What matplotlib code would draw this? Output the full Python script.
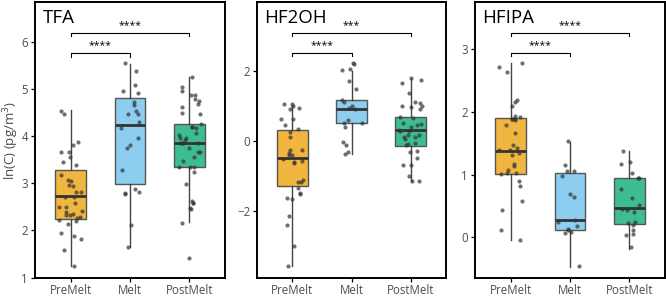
import matplotlib.pyplot as plt
import numpy as np

plt.rcParams['font.family'] = ['Open Sans', 'DejaVu Sans']

groups = ['PreMelt', 'Melt', 'PostMelt']
box_colors = ['#F0B640', '#8CCDF0', '#3EBD93']

# TFA
tfa_pre = [4.53, 4.47, 3.88, 3.80, 3.66, 3.66, 3.56, 3.44, 3.39, 3.18, 3.07, 3.05, 2.96,
           2.93, 2.82, 2.82, 2.70, 2.70, 2.57, 2.50, 2.50, 2.42, 2.39, 2.33, 2.29, 2.34,
           2.33, 2.26, 2.22, 2.20, 2.14, 1.94, 1.87, 1.82, 1.59, 1.25]
tfa_melt = [5.54, 5.38, 5.09, 4.95, 4.91, 4.66, 4.71, 4.47, 4.46, 4.52, 4.30, 4.17, 3.95,
            3.74, 3.80, 3.28, 2.88, 2.77, 2.82, 2.79, 2.11, 1.64]
tfa_post = [5.26, 5.03, 4.96, 4.87, 4.79, 4.87, 4.74, 4.62, 4.67, 4.48, 4.47, 4.20, 4.19,
            4.25, 4.16, 4.06, 4.02, 3.95, 3.95, 3.85, 3.86, 3.86, 3.85, 3.92, 3.75, 3.67,
            3.67, 3.56, 3.46, 3.34, 3.34, 3.35, 3.23, 2.98, 2.62, 2.59, 2.57, 2.48, 2.45,
            2.15, 1.42]
# box stats: whislo, q1, median, q3, whishi
tfa_box = [[1.25, 2.24, 2.72, 3.28, 4.55],
           [1.64, 2.98, 4.23, 4.81, 5.53],
           [2.17, 3.34, 3.86, 4.26, 5.24]]

# HF2OH
hf2oh_pre = [1.04, 1.04, 0.99, 0.94, 0.90, 0.61, 0.61, 0.44, 0.32, 0.25, 0.10, -0.27,
             -0.27, -0.34, -0.42, -0.42, -0.53, -0.62, -0.57, -0.65, -1.17, -1.13, -1.17,
             -1.34, -1.52, -1.49, -1.64, -1.67, -2.15, -2.41, -3.01, -3.58]
hf2oh_melt = [2.18, 2.21, 2.02, 2.04, 1.71, 1.47, 1.16, 1.10, 0.99, 0.94, 0.90, 0.59,
              0.51, 0.51, 0.38, -0.03, -0.13, -0.32, -0.38]
hf2oh_post = [1.80, 1.73, 1.66, 1.35, 1.11, 1.09, 0.99, 0.99, 0.97, 0.91, 0.69, 0.65,
              0.50, 0.44, 0.48, 0.38, 0.30, 0.28, 0.28, 0.17, 0.11, 0.11, 0.16, 0.04,
              -0.06, -0.13, -0.08, -0.29, -0.31, -0.48, -0.70, -0.70, -1.00, -1.15, -1.15]
hf2oh_box = [[-3.58, -1.30, -0.48, 0.30, 0.99],
             [-0.38, 0.50, 0.91, 1.16, 2.00],
             [-1.16, -0.15, 0.30, 0.68, 1.77]]

# HFIPA
hfipa_pre = [2.78, 2.71, 2.63, 2.19, 2.15, 2.10, 1.94, 1.91, 1.88, 1.88, 1.88, 1.87,
             1.79, 1.66, 1.47, 1.42, 1.39, 1.39, 1.31, 1.34, 1.16, 1.13, 1.07, 1.02,
             1.02, 1.01, 0.89, 0.81, 0.57, 0.43, 0.12, -0.05]
hfipa_melt = [1.53, 1.15, 1.05, 1.05, 0.98, 0.69, 0.64, 0.27, 0.25, 0.18, 0.13, 0.11,
              0.09, 0.06, -0.46]
hfipa_post = [1.38, 1.20, 1.16, 1.02, 0.94, 0.95, 0.77, 0.63, 0.51, 0.45, 0.44, 0.40,
              0.24, 0.23, 0.20, 0.12, 0.04, 0.05, -0.16]
hfipa_box = [[-0.05, 1.01, 1.38, 1.90, 2.78],
             [-0.47, 0.11, 0.27, 1.02, 1.52],
             [-0.18, 0.21, 0.47, 0.95, 1.38]]

titles = ['TFA', 'HF2OH', 'HFIPA']
points = [[tfa_pre, tfa_melt, tfa_post],
          [hf2oh_pre, hf2oh_melt, hf2oh_post],
          [hfipa_pre, hfipa_melt, hfipa_post]]
boxes = [tfa_box, hf2oh_box, hfipa_box]
ylims = [(0.99, 6.84), (-3.92, 3.96), (-0.65, 3.75)]
yticks = [[1, 2, 3, 4, 5, 6], [-2, 0, 2], [0, 1, 2, 3]]
# significance brackets: (short bracket y, long bracket y), labels
brackets = [(5.75, 6.18), (2.50, 3.07), (2.94, 3.26)]
stars = [('****', '****'), ('****', '***'), ('****', '****')]

fig = plt.figure(figsize=(6.66, 2.96), dpi=100)
lefts = [35, 257, 475]
widths = [190, 189, 190]
rng = np.random.default_rng(3)

for k in range(3):
    ax = fig.add_axes([lefts[k] / 666, 18 / 296, widths[k] / 666, 276 / 296])
    stats = []
    for b in boxes[k]:
        stats.append({'whislo': b[0], 'q1': b[1], 'med': b[2], 'q3': b[3], 'whishi': b[4],
                      'fliers': []})
    bp = ax.bxp(stats, positions=[0, 1, 2], widths=0.52, patch_artist=True,
                showcaps=False, showfliers=False,
                boxprops=dict(edgecolor='#555555', linewidth=1.0),
                whiskerprops=dict(color='#444444', linewidth=1.0),
                medianprops=dict(color='#333333', linewidth=2.0))
    for patch, c in zip(bp['boxes'], box_colors):
        patch.set_facecolor(c)
    for i, vals in enumerate(points[k]):
        x = i + rng.uniform(-0.2, 0.2, len(vals))
        ax.scatter(x, vals, s=9, color='#333333', alpha=0.7, linewidths=0, zorder=3)

    ax.set_xlim(-0.6, 2.6)
    ax.set_ylim(*ylims[k])
    ax.set_yticks(yticks[k])
    ax.set_xticks([0, 1, 2])
    ax.set_xticklabels(groups)
    ax.tick_params(labelsize=8.3, labelcolor='#4d4d4d', length=3, width=0.9, pad=2)
    ax.tick_params(axis='x', pad=1)
    for sp in ax.spines.values():
        sp.set_linewidth(1.4)

    ax.text(0.04, 0.975, titles[k], transform=ax.transAxes, fontsize=13.5,
            va='top', ha='left')

    # brackets
    yr = ylims[k][1] - ylims[k][0]
    drop = yr * 0.012
    for (x2, yb, lab) in [(1, brackets[k][0], stars[k][0]), (2, brackets[k][1], stars[k][1])]:
        ax.plot([0, 0, x2, x2], [yb - drop, yb, yb, yb - drop], color='black', lw=0.8)
        ax.annotate(lab, (x2 / 2, yb), xytext=(0, 1.5), textcoords='offset points',
                    ha='center', va='bottom', fontsize=7.5)

    if k == 0:
        ax.set_ylabel('ln(C) (pg/m$^3$)', fontsize=9.5, color='#4d4d4d', labelpad=0.5)

fig.savefig('out.png', dpi=100)
